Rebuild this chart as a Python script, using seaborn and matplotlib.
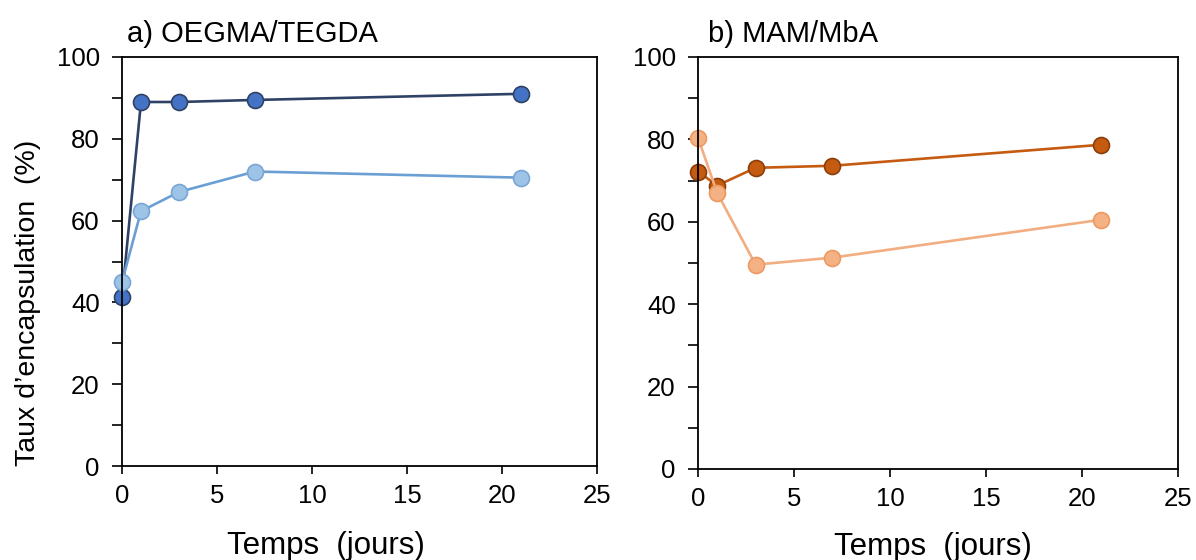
import seaborn as sns
import matplotlib.pyplot as plt
from matplotlib.ticker import MultipleLocator

sns.set_style("ticks")
plt.rcParams['font.family'] = ['Liberation Sans', 'DejaVu Sans']
plt.rcParams['text.color'] = 'black'
plt.rcParams['axes.labelcolor'] = 'black'
plt.rcParams['xtick.color'] = 'black'
plt.rcParams['ytick.color'] = 'black'

# data (days vs encapsulation %)
days = [0, 1, 3, 7, 21]
oegma_dark = [41.3, 89.0, 89.0, 89.5, 91.0]
oegma_light = [45.0, 62.3, 67.0, 72.0, 70.5]
mam_dark = [72.2, 68.8, 73.1, 73.6, 78.7]
mam_light = [80.4, 67.0, 49.6, 51.3, 60.5]

titles = ["a) OEGMA/TEGDA", "b) MAM/MbA"]

fig = plt.figure(figsize=(11.96, 5.6), dpi=100)
ax1 = fig.add_axes([122 / 1196, 94 / 560, 475 / 1196, 409 / 560])
ax2 = fig.add_axes([698 / 1196, 91 / 560, 480 / 1196, 412 / 560])

series = [
    (ax1, oegma_dark, "#2F4266", "#4472C4", "#2F4266"),
    (ax1, oegma_light, "#6A9FD3", "#9DC3E6", "#7AA6D6"),
    (ax2, mam_dark, "#C55A11", "#C55A11", "#8A3E0C"),
    (ax2, mam_light, "#F2AE80", "#F4B183", "#EC9A62"),
]
for ax, vals, lc, fc, ec in series:
    sns.lineplot(x=days, y=vals, ax=ax, color=lc, linewidth=1.9,
                 marker="o", markersize=11.5, markerfacecolor=fc,
                 markeredgecolor=ec, markeredgewidth=1.2, clip_on=False)

for ax in [ax1, ax2]:
    ax.set_xlim(0, 25)
    ax.set_ylim(0, 100)
    ax.xaxis.set_major_locator(MultipleLocator(5))
    ax.yaxis.set_major_locator(MultipleLocator(20))
    ax.yaxis.set_minor_locator(MultipleLocator(10))
    ax.tick_params(axis="y", which="both", direction="out", length=7,
                   width=1.2, labelsize=18.5, pad=9)
    ax.tick_params(axis="x", which="both", direction="out", length=6,
                   width=1.2, labelsize=18.5, pad=7)
    for s in ax.spines.values():
        s.set_visible(True)
        s.set_color("black")
        s.set_linewidth(1.3)
    ax.set_xlabel("Temps  (jours)", fontsize=22.5)
    ax.set_ylabel("")

ax1.xaxis.set_label_coords(0.43, -0.158)
ax2.xaxis.set_label_coords(0.49, -0.152)
ax1.set_ylabel("Taux d\u2019encapsulation  (%)", fontsize=20.5)
ax1.yaxis.set_label_coords(-0.17, 0.40)

fig.text(127 / 1196, 1 - 34 / 560, titles[0], fontsize=21, va="center", ha="left")
fig.text(708 / 1196, 1 - 34 / 560, titles[1], fontsize=21, va="center", ha="left")

plt.savefig("out.png", dpi=100)
plt.close()
